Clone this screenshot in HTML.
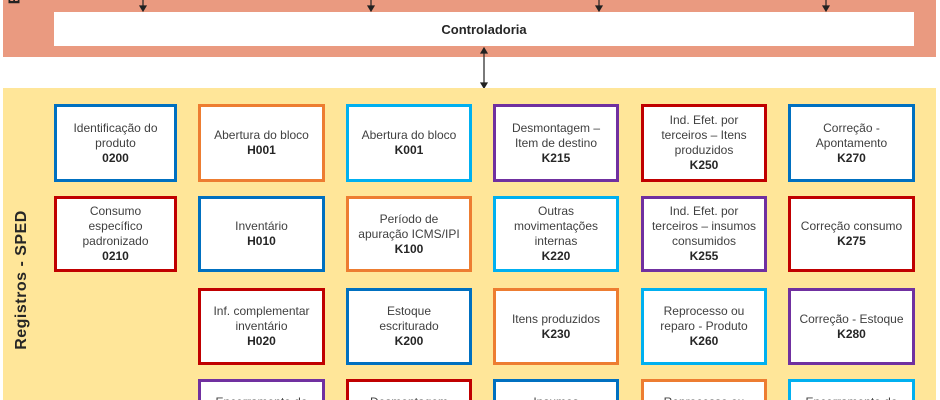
<!DOCTYPE html>
<html><head><meta charset="utf-8"><style>
html,body{margin:0;width:940px;height:400px;overflow:hidden}
body{background:#fff;font-family:"Liberation Sans",Arial,sans-serif}
#w{position:relative;width:940px;height:400px;overflow:hidden}
.a{position:absolute}
.b{position:absolute;box-sizing:border-box;border:3px solid;background:#fff;display:flex;align-items:center;justify-content:center;text-align:center;font-size:12px;line-height:15px;color:#404040;padding:0 8px;overflow:hidden}
.b b{color:#262626}
.c{border-bottom:0;align-items:flex-start;padding-top:13px;height:21px}
.db{border-color:#0070C0}.or{border-color:#ED7D31}.lb{border-color:#00B0F0}.pu{border-color:#7030A0}.rd{border-color:#C00000}
</style></head><body><div id="w">
<div class="a" style="left:3px;top:0;width:933px;height:57px;background:#EA9A80"></div>
<div class="a" style="left:10px;top:-10px;font-weight:bold;font-size:16px;color:#222;transform:rotate(-90deg)">E</div>
<div class="a" style="left:54px;top:12px;width:860px;height:34px;background:#fff;font-weight:bold;font-size:13px;color:#262626;display:flex;align-items:center;justify-content:center">Controladoria</div>
<svg class="a" style="left:0;top:0" width="940" height="100">
<g stroke="#222" stroke-width="1.2" fill="#222">
<line x1="143" y1="0" x2="143" y2="7"/><path d="M140 6h6l-3 5z"/>
<line x1="371" y1="0" x2="371" y2="7"/><path d="M368 6h6l-3 5z"/>
<line x1="599" y1="0" x2="599" y2="7"/><path d="M596 6h6l-3 5z"/>
<line x1="826" y1="0" x2="826" y2="7"/><path d="M823 6h6l-3 5z"/>
<line x1="484" y1="52" x2="484" y2="84"/><path d="M481 53h6l-3-5z"/><path d="M481 83h6l-3 5z"/>
</g></svg>
<div class="a" style="left:3px;top:88px;width:933px;height:312px;background:#FFE699"></div>
<div class="a" style="left:22px;top:280px;width:0;height:0"><div style="position:absolute;left:-80px;top:-10px;width:160px;text-align:center;transform:rotate(-90deg);font-weight:bold;font-size:16px;color:#262626;line-height:20px;letter-spacing:0.5px">Registros - SPED</div></div>

<div class="b db" style="left:54px;top:104px;width:123px;height:78px"><div>Identificação do produto<br><b>0200</b></div></div>
<div class="b or" style="left:198px;top:104px;width:127px;height:78px"><div>Abertura do bloco<br><b>H001</b></div></div>
<div class="b lb" style="left:346px;top:104px;width:126px;height:78px"><div>Abertura do bloco<br><b>K001</b></div></div>
<div class="b pu" style="left:493px;top:104px;width:126px;height:78px"><div>Desmontagem –<br>Item de destino<br><b>K215</b></div></div>
<div class="b rd" style="left:641px;top:104px;width:126px;height:78px"><div>Ind. Efet. por<br>terceiros – Itens<br>produzidos<br><b>K250</b></div></div>
<div class="b db" style="left:788px;top:104px;width:127px;height:78px"><div>Correção -<br>Apontamento<br><b>K270</b></div></div>

<div class="b rd" style="left:54px;top:196px;width:123px;height:76px"><div>Consumo<br>específico<br>padronizado<br><b>0210</b></div></div>
<div class="b db" style="left:198px;top:196px;width:127px;height:76px"><div>Inventário<br><b>H010</b></div></div>
<div class="b or" style="left:346px;top:196px;width:126px;height:76px;padding:0 3px"><div>Período de<br>apuração ICMS/IPI<br><b>K100</b></div></div>
<div class="b lb" style="left:493px;top:196px;width:126px;height:76px"><div>Outras<br>movimentações<br>internas<br><b>K220</b></div></div>
<div class="b pu" style="left:641px;top:196px;width:126px;height:76px;padding:0 2px"><div style="white-space:nowrap">Ind. Efet. por<br>terceiros – insumos<br>consumidos<br><b>K255</b></div></div>
<div class="b rd" style="left:788px;top:196px;width:127px;height:76px;padding:0 3px"><div>Correção consumo<br><b>K275</b></div></div>

<div class="b rd" style="left:198px;top:288px;width:127px;height:77px;padding:0 3px"><div>Inf. complementar<br>inventário<br><b>H020</b></div></div>
<div class="b db" style="left:346px;top:288px;width:126px;height:77px"><div>Estoque<br>escriturado<br><b>K200</b></div></div>
<div class="b or" style="left:493px;top:288px;width:126px;height:77px"><div>Itens produzidos<br><b>K230</b></div></div>
<div class="b lb" style="left:641px;top:288px;width:126px;height:77px"><div>Reprocesso ou<br>reparo - Produto<br><b>K260</b></div></div>
<div class="b pu" style="left:788px;top:288px;width:127px;height:77px;padding:0 3px"><div>Correção - Estoque<br><b>K280</b></div></div>

<div class="b pu c" style="left:198px;top:379px;width:127px"><div>Encerramento do</div></div>
<div class="b rd c" style="left:346px;top:379px;width:126px"><div>Desmontagem</div></div>
<div class="b db c" style="left:493px;top:379px;width:126px"><div>Insumos</div></div>
<div class="b or c" style="left:641px;top:379px;width:126px"><div>Reprocesso ou</div></div>
<div class="b lb c" style="left:788px;top:379px;width:127px"><div>Encerramento do</div></div>
</div></body></html>
